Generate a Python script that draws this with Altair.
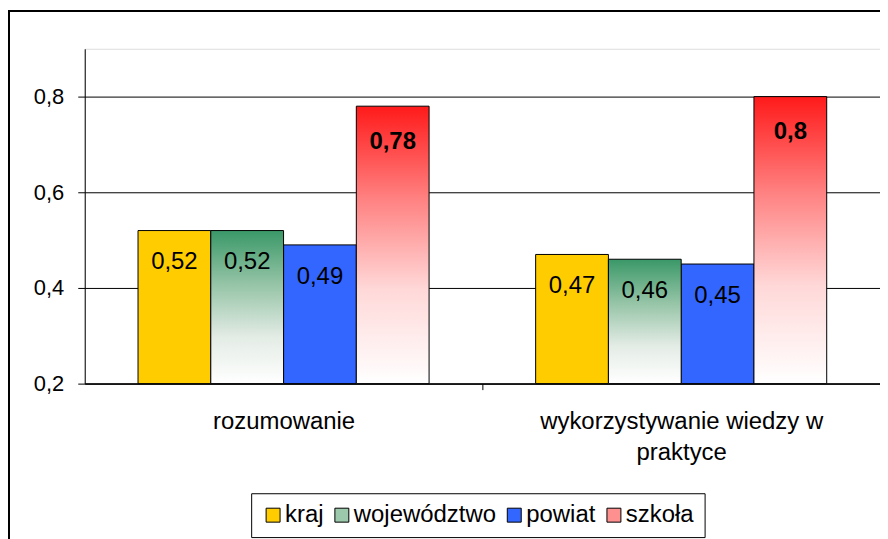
import altair as alt
import pandas as pd

categories = ["rozumowanie", "wykorzystywanie wiedzy w praktyce"]
series = ["kraj", "województwo", "powiat", "szkoła"]
kraj = [0.52, 0.47]
wojewodztwo = [0.52, 0.46]
powiat = [0.49, 0.45]
szkola = [0.78, 0.80]
y_ticks = [0.2, 0.4, 0.6, 0.8]
legend_colors = ["#FFCC00", "#9CC8AC", "#3366FF", "#FF9090"]

rows = []
for name, vals in zip(series, [kraj, wojewodztwo, powiat, szkola]):
    for c, v in zip(categories, vals):
        rows.append({"category": c, "series": name, "value": v})
df = pd.DataFrame(rows)

FONT = "Liberation Sans"

green_stops = [("#3A9868", 0), ("#95C4A6", 0.35), ("#E4ECE6", 0.7), ("#FFFFFF", 1)]
red_stops = [("#FF1A1A", 0), ("#FF8080", 0.33), ("#FFD8D8", 0.66), ("#FFFFFF", 1)]


def grad(stops):
    return alt.Gradient(
        gradient="linear", x1=0, x2=0, y1=0, y2=1,
        stops=[alt.GradientStop(color=c, offset=o) for c, o in stops],
    )


x_enc = alt.X(
    "category:N",
    scale=alt.Scale(domain=categories, paddingInner=0.268, paddingOuter=0.134),
    axis=alt.Axis(
        title=None, labelAngle=0, labelFontSize=24, labelFont=FONT, labelColor="black",
        labelLimit=500, labelLineHeight=31, labelPadding=20,
        tickOffset=199.5, labelOffset=-199.5,
        tickSize=6, domainColor="black", tickColor="black", domainWidth=1.5,
        labelExpr="datum.label == 'wykorzystywanie wiedzy w praktyce' ? ['wykorzystywanie wiedzy w', 'praktyce'] : datum.label",
    ),
)
xo_enc = alt.XOffset("series:N", scale=alt.Scale(domain=series, paddingInner=0, paddingOuter=0))
y_enc = alt.Y(
    "value:Q",
    scale=alt.Scale(domain=[0.2, 0.9], zero=False, nice=False),
    axis=alt.Axis(
        title=None, values=y_ticks, grid=True, gridColor="black", gridOpacity=1,
        domainColor="black", tickColor="black", tickSize=7, labelPadding=14,
        labelFontSize=22, labelFont=FONT, labelColor="black",
        labelExpr="replace(format(datum.value, '.1f'), '.', ',')",
    ),
)

color_enc = alt.Color(
    "series:N",
    scale=alt.Scale(domain=series, range=legend_colors),
    legend=alt.Legend(
        title=None, orient="none", legendX=167, legendY=446, direction="horizontal",
        strokeColor="black", fillColor="white", padding=10, labelFontSize=24, labelFont=FONT,
        labelColor="black", columnPadding=6, labelOffset=0, symbolType="square",
        symbolSize=196, symbolStrokeColor="black", symbolStrokeWidth=1, symbolOpacity=1,
        labelLimit=300,
    ),
)

base = alt.Chart(df)

solid = base.transform_filter(
    "datum.series == 'kraj' || datum.series == 'powiat'"
).mark_bar(stroke="black", strokeWidth=1).encode(
    x=x_enc, xOffset=xo_enc, y=y_enc, y2=alt.datum(0.2), color=color_enc
)

green = base.transform_filter("datum.series == 'województwo'").mark_bar(
    fill=grad(green_stops), stroke="black", strokeWidth=1
).encode(x=x_enc, xOffset=xo_enc, y=y_enc, y2=alt.datum(0.2))

red = base.transform_filter("datum.series == 'szkoła'").mark_bar(
    fill=grad(red_stops), stroke="black", strokeWidth=1
).encode(x=x_enc, xOffset=xo_enc, y=y_enc, y2=alt.datum(0.2))

labels_normal = base.transform_filter("datum.series != 'szkoła'").transform_calculate(
    label="replace(toString(datum.value), '.', ',')"
).mark_text(dy=32, fontSize=24, font=FONT, color="black", baseline="middle").encode(
    x=x_enc, xOffset=xo_enc, y=y_enc, text="label:N"
)

labels_bold = base.transform_filter("datum.series == 'szkoła'").transform_calculate(
    label="replace(toString(datum.value), '.', ',')"
).mark_text(dy=36, fontSize=24, font=FONT, fontWeight="bold", color="black", baseline="middle").encode(
    x=x_enc, xOffset=xo_enc, y=y_enc, text="label:N"
)

frame = alt.Chart(pd.DataFrame({"a": [0]})).mark_rect(
    fillOpacity=0, stroke="black", strokeWidth=2
).encode(x=alt.value(-76), x2=alt.value(830), y=alt.value(-38), y2=alt.value(520))

chart = alt.layer(frame, solid, green, red, labels_normal, labels_bold).properties(
    width=798, height=336,
    autosize=alt.AutoSizeParams(type="none"),
    padding={"left": 77, "top": 40, "right": 0, "bottom": 155},
).configure_view(stroke=None).configure(font=FONT)

chart.save("out.html", embed_options={"renderer": "svg", "actions": False})
